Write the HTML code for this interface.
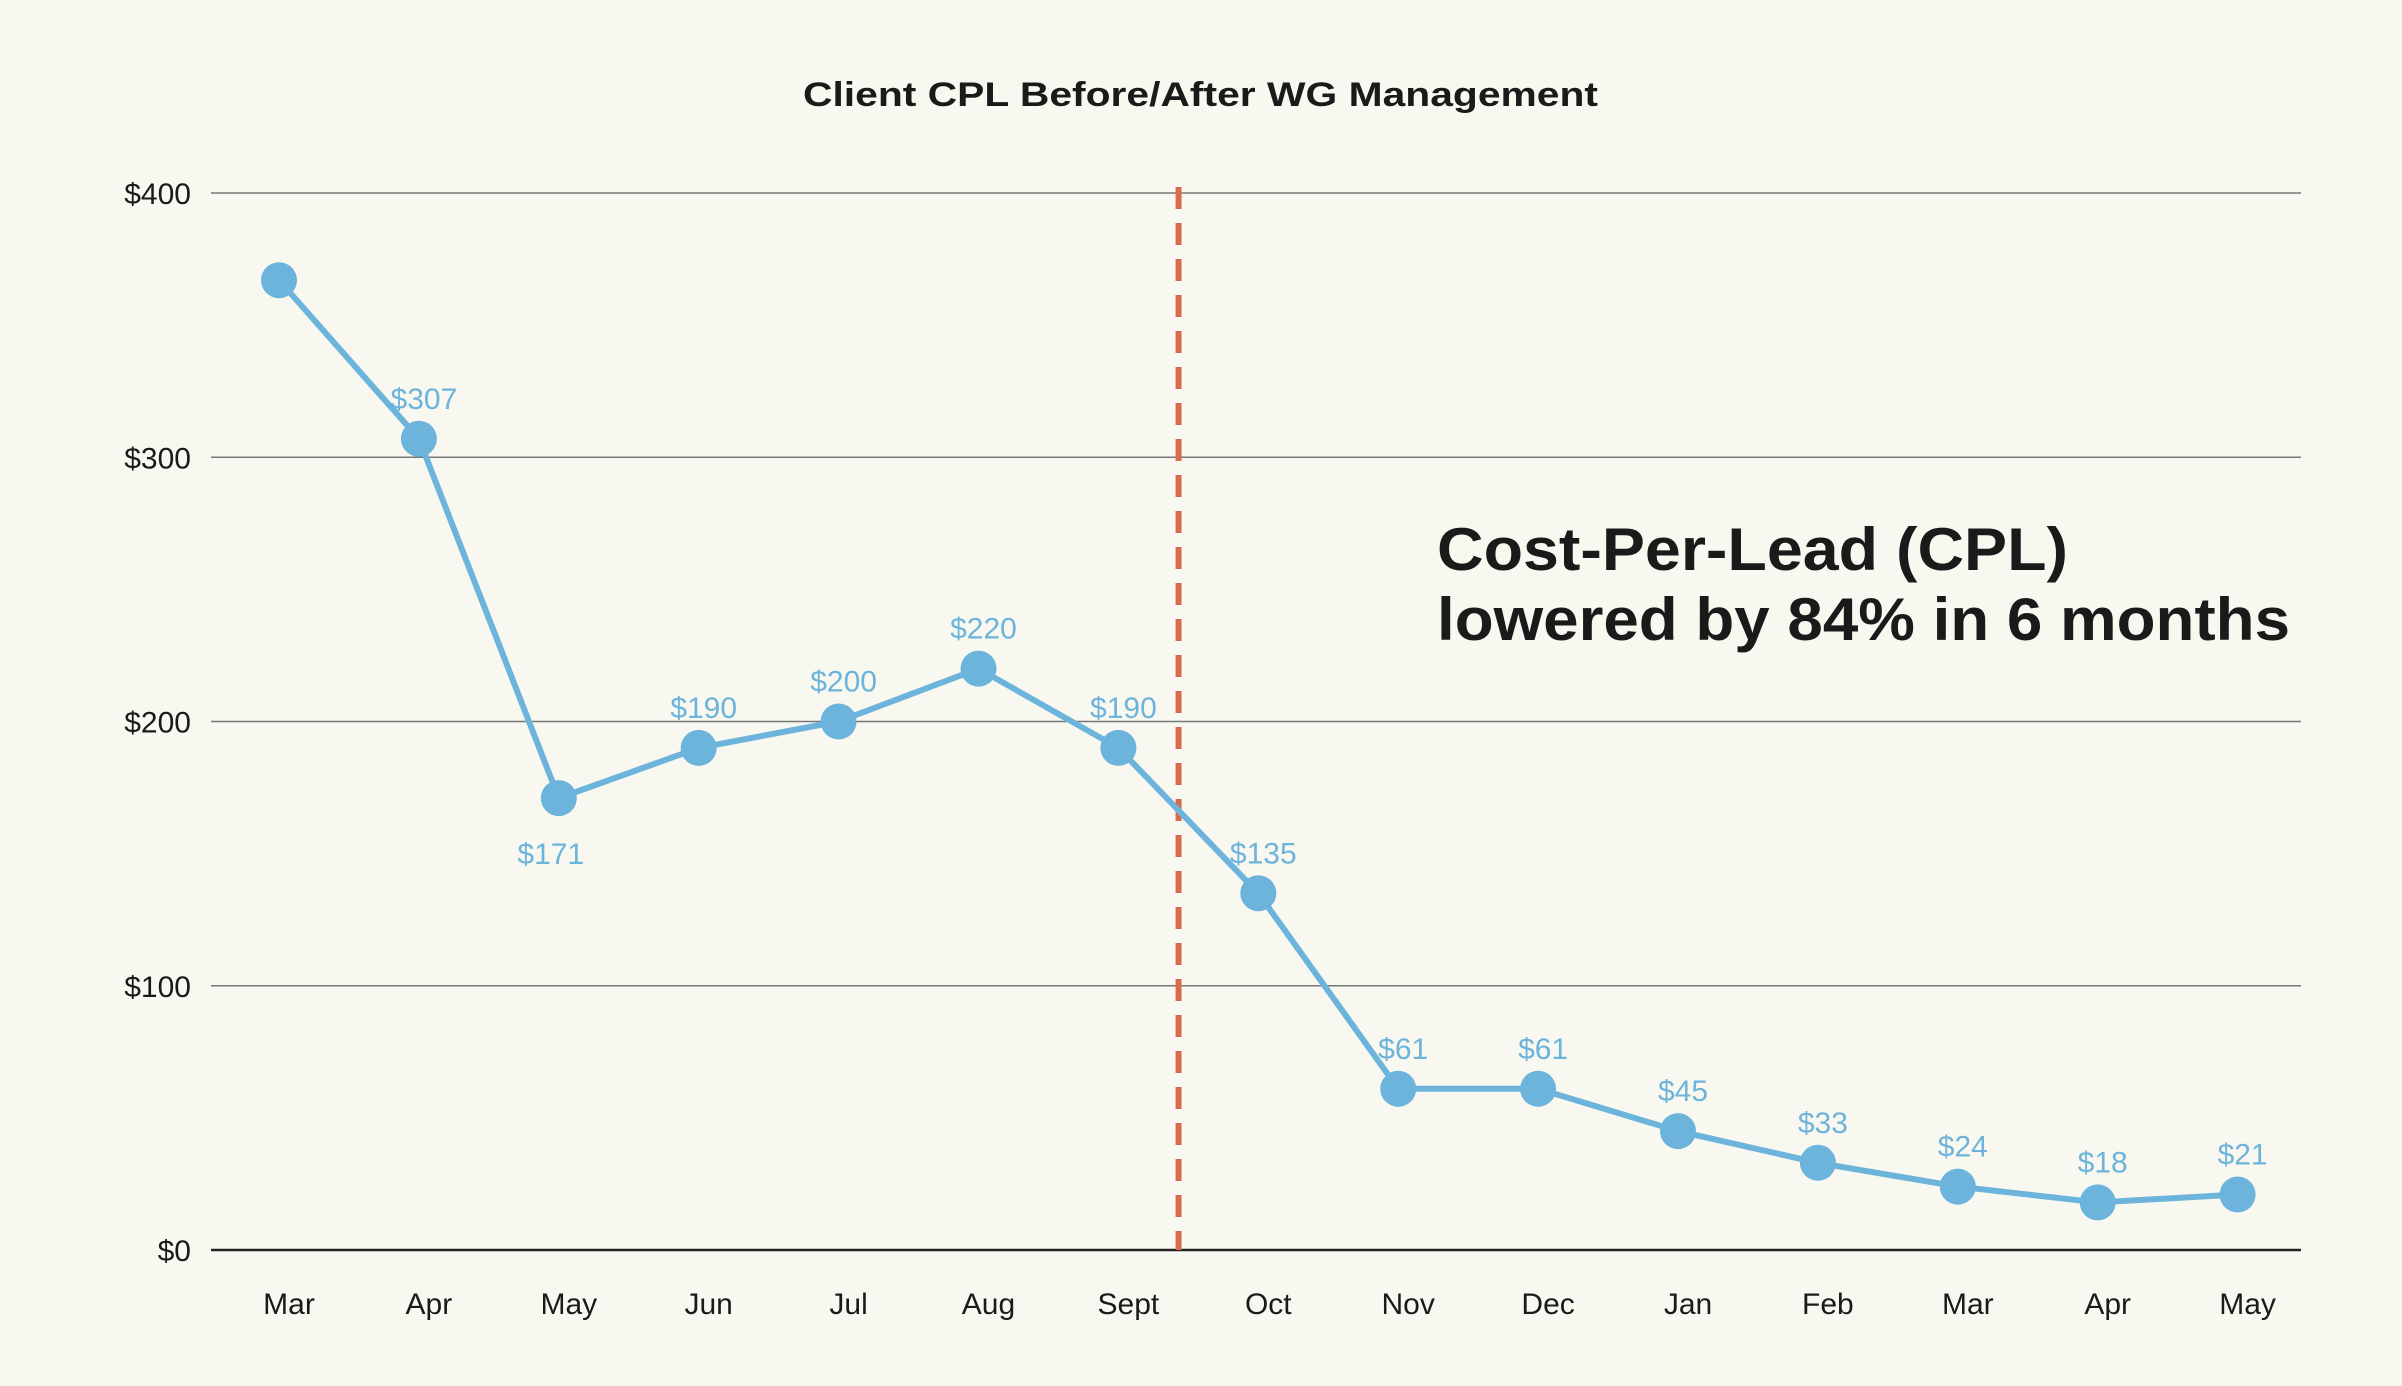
<!DOCTYPE html>
<html><head><meta charset="utf-8"><style>
html,body{margin:0;padding:0;background:#f9f8f0;}
svg{display:block;font-family:"Liberation Sans",sans-serif;}
</style></head><body>
<svg id="chart" width="2402" height="1386" viewBox="0 0 2402 1386">
<rect width="2402" height="1386" fill="#f9f8f0"/>
<text x="803" y="106" textLength="795" lengthAdjust="spacingAndGlyphs" font-size="34" font-weight="bold" fill="#1a1a1a">Client CPL Before/After WG Management</text>
<g id="grid"></g><g id="series"></g>
<text x="1437" y="570" textLength="631" lengthAdjust="spacingAndGlyphs" font-size="60" font-weight="bold" fill="#1a1a1a">Cost-Per-Lead (CPL)</text>
<text x="1437" y="640" textLength="853" lengthAdjust="spacingAndGlyphs" font-size="60" font-weight="bold" fill="#1a1a1a">lowered by 84% in 6 months</text>
</svg>
<script>
const categories=["Mar","Apr","May","Jun","Jul","Aug","Sept","Oct","Nov","Dec","Jan","Feb","Mar","Apr","May"];
const values=[367,307,171,190,200,220,190,135,61,61,45,33,24,18,21];
const valueLabels=["","$307","$171","$190","$200","$220","$190","$135","$61","$61","$45","$33","$24","$18","$21"];
const yTicks=[0,100,200,300,400];
const yTickLabels=["$0","$100","$200","$300","$400"];
const dividerIndex=6.43;
const NS="http://www.w3.org/2000/svg";
const x=i=>279+i*139.9;
const y=v=>1250-v*(1057/400);
function mk(t,a,p){const e=document.createElementNS(NS,t);for(const k in a)e.setAttribute(k,a[k]);p.appendChild(e);return e;}
const g=document.getElementById('grid'),s=document.getElementById('series');
yTicks.forEach((v,i)=>{
 const l=mk('line',{x1:211,x2:2301,y1:y(v),y2:y(v),stroke:v===0?'#222':'#777','stroke-width':v===0?2.5:1.5},g);
 
 
 const t=mk('text',{x:191,y:y(v)+11,'text-anchor':'end','font-size':30,fill:'#1a1a1a'},g);t.textContent=yTickLabels[i];
 
 
});
categories.forEach((c,i)=>{
 const t=mk('text',{x:x(i)+10,y:1314,'text-anchor':'middle','font-size':30,fill:'#1a1a1a'},g);t.textContent=c;
 
 
});
const d=mk('line',{x1:x(dividerIndex),x2:x(dividerIndex),y1:187,y2:1250,stroke:'#d9694f','stroke-width':6,'stroke-dasharray':'22 14'},g);


const pl=mk('polyline',{points:values.map((v,i)=>x(i)+','+y(v)).join(' '),fill:'none',stroke:'#6cb4db','stroke-width':6,'stroke-linejoin':'round'},s);


values.forEach((v,i)=>{
 const c=mk('circle',{cx:x(i),cy:y(v),r:18,fill:'#6cb4db'},s);
 
 
 if(valueLabels[i]){
  const below=i===2;
  const t=mk('text',{x:x(i)+(below?-8:5),y:below?y(v)+66:y(v)-30,'text-anchor':'middle','font-size':30,fill:'#6cb4db'},s);
  t.textContent=valueLabels[i];
  
  
 }
});
</script>
</body></html>
